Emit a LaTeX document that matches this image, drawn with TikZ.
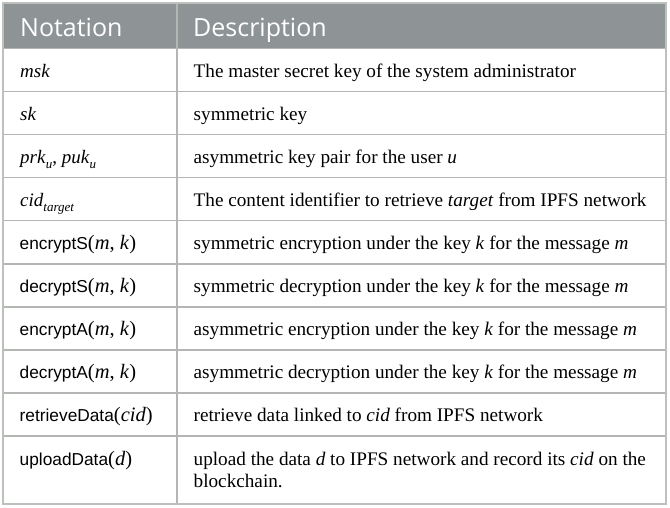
\documentclass[tikz,border=0pt]{standalone}
\usepackage{fontspec}
\setmainfont{Liberation Serif}
\newfontfamily\hdrfont{Open Sans}
\newfontfamily\fnfont{Liberation Sans}
\definecolor{hdrgrey}{HTML}{8E9496}
\definecolor{rulegrey}{HTML}{B4B6B4}
\definecolor{framegrey}{HTML}{BCC1BC}
\newcommand{\msub}[1]{\raisebox{-0.3em}{\fontsize{13}{13}\selectfont\itshape #1}}
\newcommand{\fn}[1]{{\fnfont\fontsize{17.3}{17}\selectfont #1}}
\newcommand{\args}[1]{{\fontsize{20.5}{22}\selectfont #1}}
\begin{document}
\begin{tikzpicture}[x=1pt,y=-1pt,
  hdr/.style={anchor=base west,inner sep=0,text=white,font=\hdrfont\fontsize{25}{25}\selectfont},
  notn/.style={anchor=base west,inner sep=0,font=\fontsize{19}{22}\selectfont},
  desc/.style={anchor=base west,inner sep=0,font=\fontsize{19.2}{22}\selectfont},
  rule/.style={draw=rulegrey,line width=1.4pt},
  frame/.style={draw=framegrey,line width=2pt}]
\useasboundingbox (0,0) rectangle (670,507);
% header background
\fill[hdrgrey] (3,3) rectangle (666,48.5);
% horizontal rules
\foreach \y in {48.5,91.5,134.6,177.7,220.7,263.8,306.9,349.9,393,436}
  \draw[rule] (3,\y) -- (666,\y);
% column divider
\draw[rule] (177,3) -- (177,503.5);
% outer frame
\draw[frame] (3,3) rectangle (666,503.5);
% header
\node[hdr] (h1) at (20,36) {Notation};
\node[hdr] (h2) at (193,36) {Description};
% notation column
\node[notn] (n1) at (20,77) {\textit{msk}};
\node[notn] (n2) at (20,120) {\textit{sk}};
\node[notn] (n3) at (20,163) {\textit{prk}\msub{u}, \textit{puk}\msub{u}};
\node[notn] (n4) at (20,206.2) {\textit{cid}\msub{target}};
\node[notn] (n5) at (19.5,249.2) {\fn{encryptS}\args{(\textit{m}, \textit{k})}};
\node[notn] (n6) at (19.5,292.3) {\fn{decryptS}\args{(\textit{m}, \textit{k})}};
\node[notn] (n7) at (19.5,335.4) {\fn{encryptA}\args{(\textit{m}, \textit{k})}};
\node[notn] (n8) at (19.5,378.4) {\fn{decryptA}\args{(\textit{m}, \textit{k})}};
\node[notn] (n9) at (19.5,421.5) {\fn{retrieveData}\args{(\textit{cid})}};
\node[notn] (n10) at (19.5,465) {\fn{uploadData}\args{(\textit{d})}};
% description column
\node[desc] (d1) at (193.5,77) {The master secret key of the system administrator};
\node[desc] (d2) at (193.5,120) {symmetric key};
\node[desc] (d3) at (193.5,163) {asymmetric key pair for the user \textit{u}};
\node[desc] (d4) at (193.5,206.2) {The content identifier to retrieve \textit{target} from IPFS network};
\node[desc] (d5) at (193.5,249.2) {symmetric encryption under the key \textit{k} for the message \textit{m}};
\node[desc] (d6) at (193.5,292.3) {symmetric decryption under the key \textit{k} for the message \textit{m}};
\node[desc] (d7) at (193.5,335.4) {asymmetric encryption under the key \textit{k} for the message \textit{m}};
\node[desc] (d8) at (193.5,378.4) {asymmetric decryption under the key \textit{k} for the message \textit{m}};
\node[desc] (d9) at (193.5,421.5) {retrieve data linked to \textit{cid} from IPFS network};
\node[desc] (d10) at (193.5,465) {upload the data \textit{d} to IPFS network and record its \textit{cid} on the};
\node[desc] (d10b) at (193.5,487) {blockchain.};
\end{tikzpicture}
\end{document}
